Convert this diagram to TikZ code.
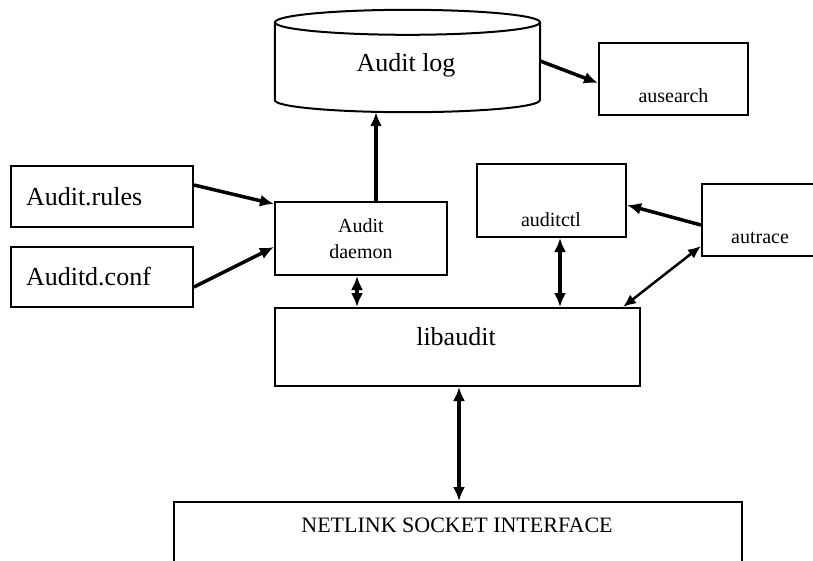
\documentclass[tikz,border=0pt]{standalone}
\usepackage{fontspec}
\setmainfont{Liberation Serif}
\usetikzlibrary{arrows.meta,positioning}

\tikzset{
	box/.style={draw, line width=2pt, inner sep=0pt},
	big/.style={font=\fontsize{26}{30}\selectfont},
	small/.style={font=\fontsize{20}{26}\selectfont},
	link/.style={line width=3.5pt, -{Latex[length=14pt,width=12pt]}},
	duo/.style={line width=3.5pt, {Latex[length=14pt,width=12pt]}-{Latex[length=14pt,width=12pt]}},
	thinduo/.style={line width=2.5pt, {Latex[length=13pt,width=11pt]}-{Latex[length=13pt,width=11pt]}}
}

\begin{document}
\begin{tikzpicture}[x=1pt, y=-1pt]
		\clip (0, 0) rectangle (813, 560);
		\fill [white] (0, 0) rectangle (813, 560);
		% the audit log store
		\node (log) at (407.5, 61) [minimum width=265pt, minimum height=102pt, inner sep=0pt] {};
		\draw [line width=2pt] ([yshift=-12.5pt]log.north) ellipse [x radius=132.5pt, y radius=12.5pt];
		\draw [line width=2pt] ([yshift=-12.5pt]log.north west) -- ([yshift=12pt]log.south west)
			arc [start angle=180, end angle=360, x radius=132.5pt, y radius=12pt] -- ([yshift=-12.5pt]log.north east);
		\node (logtext) [big, anchor=base] at (406, 71) {Audit log};
		% boxes
		\node (search) at (673.5, 79) [box, minimum width=149pt, minimum height=72pt] {};
		\node (rules) at (102, 196.5) [box, big, minimum height=61pt, text width=152pt, inner xsep=15pt, align=left] {Audit.rules};
		\node (conf) at (102, 277) [box, big, minimum height=60pt, text width=152pt, inner xsep=15pt, align=left] {Auditd.conf};
		\node (daemon) at (361, 238.5) [box, small, minimum width=172pt, minimum height=73pt, align=center] {Audit\\daemon};
		\node (ctl) at (551.5, 200.5) [box, minimum width=149pt, minimum height=73pt] {};
		\node (trace) at (762, 220) [box, minimum width=120pt, minimum height=72pt] {};
		\node (lib) at (457.5, 347) [box, minimum width=365pt, minimum height=78pt] {};
		\node (net) at (458, 541) [box, minimum width=568pt, minimum height=78pt] {};
		% box texts
		\node (searchtext) [small, anchor=base] at (673.5, 102) {ausearch};
		\node (ctltext) [small, anchor=base] at (551, 226) {auditctl};
		\node (tracetext) [small, anchor=base] at (760, 243) {autrace};
		\node (libtext) [big, anchor=base] at (456, 345) {libaudit};
		\node (nettext) [font=\fontsize{22}{26}\selectfont, anchor=base] at (457, 532) {NETLINK SOCKET INTERFACE};
		% connectors
		\draw [link] (log.east) -- ([yshift=-4pt]search.west);
		\draw [link] ([xshift=15pt]daemon.north) -- ([xshift=15pt]daemon.north |- log.south);
		\draw [link] ([yshift=11.5pt]rules.east) -- ([yshift=-3pt]daemon.north west);
		\draw [link] ([yshift=-10pt]conf.east) -- ([yshift=-8.5pt]daemon.west);
		\draw [duo] ([xshift=-4pt]daemon.south) -- ([xshift=-4pt]daemon.south |- lib.north);
		\draw [duo] ([xshift=8.5pt]ctl.south) -- ([xshift=8.5pt]ctl.south |- lib.north);
		\draw [link] ([yshift=-5pt]trace.west) -- ([yshift=-4.5pt]ctl.east);
		\draw [thinduo] ([yshift=-26pt]trace.west) -- ([xshift=-18pt]lib.north east);
		\draw [duo] ([xshift=1.5pt]lib.south) -- ([xshift=1.5pt]lib.south |- net.north);
	\end{tikzpicture}
\end{document}
